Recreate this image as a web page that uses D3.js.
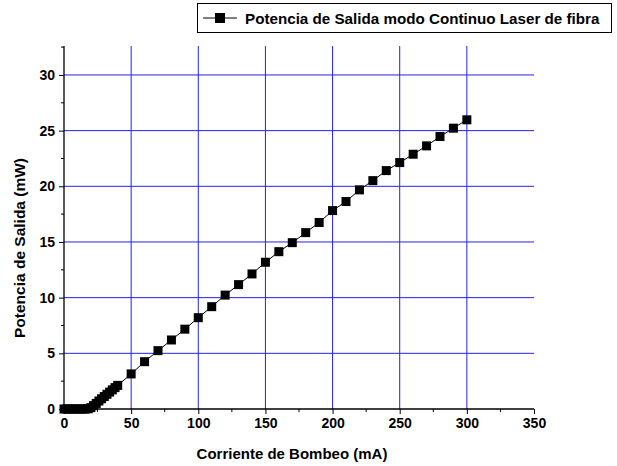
<!DOCTYPE html>
<html><head><meta charset="utf-8">
<script src="https://cdn.jsdelivr.net/npm/d3@7"></script>
<style>body{margin:0;background:#fff}svg{display:block}text{font-family:"Liberation Sans",Arial,sans-serif;font-weight:bold}</style>
</head><body><svg id="c" width="617" height="466"></svg>
<script>
const corriente = [0,2,4,6,8,10,12,14,16,18,20,22,24,26,28,30,32,34,36,38,40,
  50,60,70,80,90,100,110,120,130,140,150,160,170,180,190,200,210,220,230,240,250,260,270,280,290,300];
const potencia = [0,0,0,0,0,0,0,0,0,0.02,0.12,0.3,0.5,0.72,0.92,1.12,1.32,1.52,1.72,1.92,2.12,
  3.15,4.25,5.24,6.2,7.17,8.2,9.19,10.23,11.17,12.13,13.18,14.13,14.94,15.84,16.75,17.82,18.63,19.68,20.51,21.41,22.13,22.88,23.63,24.47,25.22,25.97];
const xTicks = [0,50,100,150,200,250,300,350];
const yTicks = [0,5,10,15,20,25,30];
const xMinor = [25,75,125,175,225,275,325];
const yMinor = [2.5,7.5,12.5,17.5,22.5,27.5,32.5];
const legendLabel = "Potencia de Salida modo Continuo Laser de fibra";
const xTitle = "Corriente de Bombeo (mA)";
const yTitle = "Potencia de Salida (mW)";

const svg = d3.select("#c");
const L=64,R=534,T=46,B=409;
const x = d3.scaleLinear().domain([0,350]).range([L,R]);
const y = d3.scaleLinear().domain([0,32.6]).range([B,T]);

// grid
svg.append("g").selectAll("line").data(xTicks.filter(d=>d>0&&d<350)).join("line")
  .attr("x1",d=>x(d)).attr("x2",d=>x(d)).attr("y1",B).attr("y2",T)
  .attr("stroke","#2222ee").attr("stroke-width",1);
svg.append("g").selectAll("line").data(yTicks.filter(d=>d>0)).join("line")
  .attr("x1",L).attr("x2",R).attr("y1",d=>y(d)).attr("y2",d=>y(d))
  .attr("stroke","#2222ee").attr("stroke-width",1);

// axes
const xa = svg.append("g").attr("transform",`translate(0,${B})`)
  .call(d3.axisBottom(x).tickValues(xTicks).tickSize(5).tickPadding(4).tickFormat(d3.format("d")));
const ya = svg.append("g").attr("transform",`translate(${L},0)`)
  .call(d3.axisLeft(y).tickValues(yTicks).tickSize(5).tickPadding(4).tickFormat(d3.format("d")));
[xa,ya].forEach(a=>{a.select(".domain").remove();a.selectAll("text").attr("font-size",14).attr("fill","#000")
  .style("font-family","'Liberation Sans',Arial,sans-serif").style("font-weight","bold");a.selectAll("line").attr("stroke","#000");});
svg.append("line").attr("x1",L).attr("x2",R).attr("y1",B).attr("y2",B).attr("stroke","#000").attr("stroke-width",1.3);
svg.append("line").attr("x1",L).attr("x2",L).attr("y1",B).attr("y2",T).attr("stroke","#000").attr("stroke-width",1.3);
svg.append("g").selectAll("line").data(xMinor).join("line")
  .attr("x1",d=>x(d)).attr("x2",d=>x(d)).attr("y1",B).attr("y2",B+3).attr("stroke","#000");
svg.append("g").selectAll("line").data(yMinor).join("line")
  .attr("x1",L-3).attr("x2",L).attr("y1",d=>y(d)).attr("y2",d=>y(d)).attr("stroke","#000");

// titles
svg.append("text").attr("x",292).attr("y",459).attr("text-anchor","middle").attr("font-size",15).text(xTitle);
svg.append("text").attr("transform",`translate(25,248) rotate(-90)`).attr("text-anchor","middle").attr("font-size",15.5).text(yTitle);

// data
const pts = corriente.map((c,i)=>[c,potencia[i]]);
svg.append("path").datum(pts).attr("fill","none").attr("stroke","#000").attr("stroke-width",1)
  .attr("d",d3.line().x(d=>x(d[0])).y(d=>y(d[1])));
const s=9;
svg.append("g").selectAll("rect").data(pts).join("rect")
  .attr("x",d=>x(d[0])-s/2).attr("y",d=>y(d[1])-s/2).attr("width",s).attr("height",s).attr("fill","#000");

// legend
const lg = svg.append("g");
lg.append("rect").attr("x",197.5).attr("y",3.5).attr("width",414).attr("height",29).attr("fill","#fff").attr("stroke","#000");
lg.append("line").attr("x1",203).attr("x2",237).attr("y1",18).attr("y2",18).attr("stroke","#000");
lg.append("rect").attr("x",215).attr("y",13).attr("width",10).attr("height",10).attr("fill","#000");
lg.append("text").attr("x",245).attr("y",24).attr("font-size",15.2).text(legendLabel);
</script></body></html>
